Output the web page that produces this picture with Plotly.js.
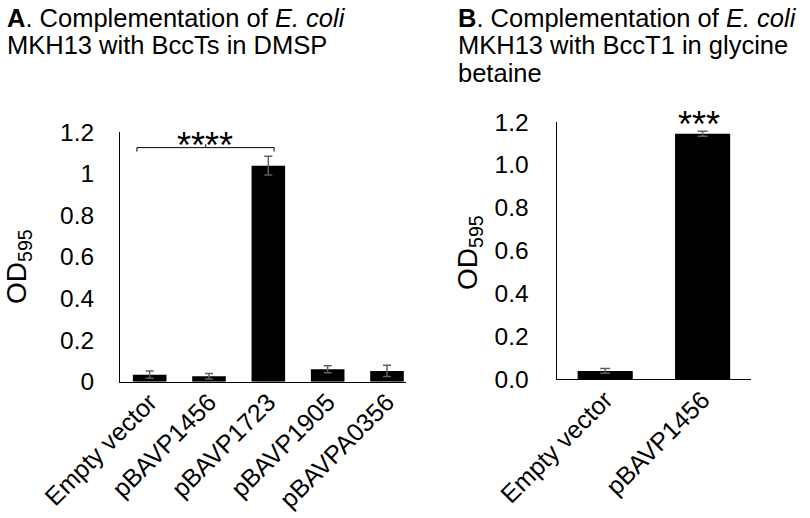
<!DOCTYPE html>
<html>
<head>
<meta charset="utf-8">
<script src="https://cdn.plot.ly/plotly-3.0.1.min.js"></script>
<style>
  html, body { margin: 0; padding: 0; background: #fff; }
  #plot { width: 810px; height: 518px; }
</style>
</head>
<body>
<div id="plot"></div>
<script>
// Panel A: BccTs in DMSP
let cats_a = ["Empty vector", "pBAVP1456", "pBAVP1723", "pBAVP1905", "pBAVPA0356"];
let od_a = [0.034, 0.026, 1.038, 0.060, 0.052];
let err_a = [0.017, 0.013, 0.045, 0.017, 0.027];

// Panel B: BccT1 in glycine betaine
let cats_b = ["Empty vector", "pBAVP1456"];
let od_b = [0.039, 1.145];
let err_b = [0.011, 0.012];

let W = 810, H = 518;
let FONT = "Liberation Sans, Arial, Helvetica, sans-serif";

// pixel -> paper helpers for text placement
function px(x) { return x / W; }
function py(y) { return 1 - y / H; }

let bar_style = {
    type: "bar",
    marker: { color: "#000000", line: { width: 0 } },
    hoverinfo: "skip"
  };

let trace_a = Object.assign({}, bar_style, {
    x: cats_a,
    y: od_a,
    xaxis: "x",
    yaxis: "y",
    error_y: { type: "data", array: err_a, visible: true, color: "#606060", thickness: 1.5, width: 4 }
  });

let trace_b = Object.assign({}, bar_style, {
    x: cats_b,
    y: od_b,
    xaxis: "x2",
    yaxis: "y2",
    error_y: { type: "data", array: err_b, visible: true, color: "#606060", thickness: 1.5, width: 5 }
  });

let axis_common = {
    showline: true,
    linecolor: "#000000",
    linewidth: 1,
    showgrid: false,
    zeroline: false,
    ticks: "",
    fixedrange: true
  };

let TITLE_SIZE = 25.5;

let layout = {
    width: W,
    height: H,
    margin: { l: 0, r: 0, t: 0, b: 0 },
    paper_bgcolor: "#ffffff",
    plot_bgcolor: "#ffffff",
    showlegend: false,
    bargap: 0.434,
    font: { family: FONT, color: "#000000" },
    xaxis: Object.assign({}, axis_common, {
      domain: [px(120), px(406)],
      range: [-0.5, 4.32],
      anchor: "y",
      tickangle: -45,
      ticklabelstandoff: -5,
      tickfont: { size: 25 }
    }),
    yaxis: Object.assign({}, axis_common, {
      domain: [py(381.7), py(132)],
      range: [0, 1.2],
      dtick: 0.2,
      anchor: "x",
      ticklabelstandoff: 20,
      tickfont: { size: 24.5 }
    }),
    xaxis2: Object.assign({}, axis_common, {
      domain: [px(556.5), px(751.3)],
      range: [-0.5, 1.5],
      anchor: "y2",
      tickangle: -45,
      ticklabelstandoff: -5,
      tickfont: { size: 25 }
    }),
    yaxis2: Object.assign({}, axis_common, {
      domain: [py(379.3), py(122)],
      range: [0, 1.2],
      dtick: 0.2,
      tickformat: ".1f",
      anchor: "x2",
      ticklabelstandoff: 22,
      tickfont: { size: 24.5 }
    }),
    shapes: [
      // significance bracket over panel A
      { type: "line", xref: "x", yref: "y", x0: -0.215, x1: 2.097, y0: 1.125, y1: 1.125, line: { color: "#000", width: 1 } },
      { type: "line", xref: "x", yref: "y", x0: -0.215, x1: -0.215, y0: 1.106, y1: 1.125, line: { color: "#000", width: 1 } },
      { type: "line", xref: "x", yref: "y", x0: 2.097, x1: 2.097, y0: 1.106, y1: 1.125, line: { color: "#000", width: 1 } },
      { type: "line", xref: "x", yref: "y", x0: 0.945, x1: 0.945, y0: 1.125, y1: 1.141, line: { color: "#000", width: 1 } }
    ],
    annotations: [
      // panel titles
      { xref: "paper", yref: "paper", x: px(5), y: py(17.7), xanchor: "left", yanchor: "middle", showarrow: false,
        text: "<b>A</b>. Complementation of <i>E. coli</i>", font: { size: TITLE_SIZE } },
      { xref: "paper", yref: "paper", x: px(5), y: py(45), xanchor: "left", yanchor: "middle", showarrow: false,
        text: "MKH13 with BccTs in DMSP", font: { size: TITLE_SIZE } },
      { xref: "paper", yref: "paper", x: px(456), y: py(17.7), xanchor: "left", yanchor: "middle", showarrow: false,
        text: "<b>B</b>. Complementation of <i>E. coli</i>", font: { size: TITLE_SIZE } },
      { xref: "paper", yref: "paper", x: px(456), y: py(45), xanchor: "left", yanchor: "middle", showarrow: false,
        text: "MKH13 with BccT1 in glycine", font: { size: TITLE_SIZE } },
      { xref: "paper", yref: "paper", x: px(456), y: py(73), xanchor: "left", yanchor: "middle", showarrow: false,
        text: "betaine", font: { size: TITLE_SIZE } },
      // y axis titles
      { xref: "paper", yref: "paper", x: px(18), y: py(267), xanchor: "center", yanchor: "middle", showarrow: false,
        textangle: -90, text: "OD<sub>595</sub>", font: { size: 28 } },
      { xref: "paper", yref: "paper", x: px(469), y: py(253), xanchor: "center", yanchor: "middle", showarrow: false,
        textangle: -90, text: "OD<sub>595</sub>", font: { size: 28 } },
      // significance stars
      { xref: "paper", yref: "paper", x: px(205), y: py(145), xanchor: "center", yanchor: "middle", showarrow: false,
        text: "****", font: { size: 36 } },
      { xref: "paper", yref: "paper", x: px(699), y: py(125), xanchor: "center", yanchor: "middle", showarrow: false,
        text: "***", font: { size: 36 } }
    ]
  };

Plotly.newPlot("plot", [trace_a, trace_b], layout, { staticPlot: true, displayModeBar: false });
</script>
</body>
</html>
